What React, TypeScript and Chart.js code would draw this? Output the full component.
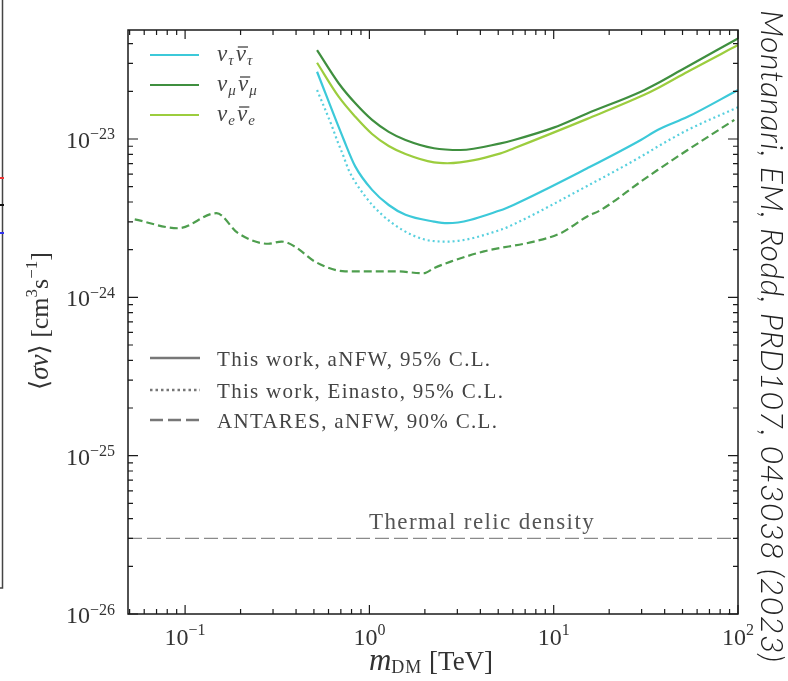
import React, { useEffect, useRef } from "react";
import { Chart, registerables } from "chart.js";
Chart.register(...registerables);

// ---- data (m_DM in TeV, <sigma v> in cm^3 s^-1) ----
const tauMass = [0.52, 0.727, 0.839, 1.034, 1.273, 1.57, 2.24, 2.65, 5.15, 6.09, 15.2, 29.7, 36.6, 53.3, 100];
const tauSigma = [2.66e-23, 9.86e-24, 6.69e-24, 4.77e-24, 3.83e-24, 3.32e-24, 3.01e-24, 2.94e-24, 3.55e-24, 3.85e-24, 6.53e-24, 9.86e-24, 1.14e-23, 1.38e-23, 2.04e-23];
const muMass = [0.52, 0.681, 0.839, 1.034, 1.273, 1.57, 2.24, 3.12, 5.15, 6.09, 10.0, 15.2, 29.7, 36.6, 49, 100];
const muSigma = [3.64e-23, 2.25e-23, 1.68e-23, 1.32e-23, 1.11e-23, 9.86e-24, 8.74e-24, 8.52e-24, 9.39e-24, 9.86e-24, 1.18e-23, 1.45e-23, 1.99e-23, 2.25e-23, 2.72e-23, 4.32e-23];
const eMass = [0.52, 0.681, 0.839, 1.034, 1.273, 1.57, 2.24, 2.65, 5.15, 6.09, 15.2, 31, 36.6, 53.3, 100];
const eSigma = [3.03e-23, 1.85e-23, 1.38e-23, 1.075e-23, 9.03e-24, 8.04e-24, 7.11e-24, 7.03e-24, 8.12e-24, 8.74e-24, 1.34e-23, 1.9e-23, 2.09e-23, 2.66e-23, 3.92e-23];
const tauEinastoMass = [0.52, 0.627, 0.667, 0.725, 0.772, 0.951, 1.172, 1.506, 2.015, 2.65, 5.15, 6.09, 15.2, 29.7, 36.6, 53.3, 100];
const tauEinastoSigma = [2.04e-23, 1.2e-23, 9.86e-24, 7.73e-24, 6.37e-24, 4.33e-24, 3.32e-24, 2.67e-24, 2.31e-24, 2.25e-24, 2.67e-24, 2.9e-24, 5.05e-24, 7.73e-24, 8.94e-24, 1.14e-23, 1.585e-23];
const antaresMass = [0.0533, 0.0916, 0.148, 0.194, 0.282, 0.334, 0.395, 0.507, 0.738, 1.38, 1.97, 2.24, 2.76, 4.18, 7.81, 10.9, 15.2, 18.0, 29.7, 36.6, 53.3, 95.5];
const antaresSigma = [3.11e-24, 2.73e-24, 3.4e-24, 2.54e-24, 2.18e-24, 2.25e-24, 2.09e-24, 1.68e-24, 1.46e-24, 1.46e-24, 1.42e-24, 1.53e-24, 1.68e-24, 1.95e-24, 2.25e-24, 2.54e-24, 3.24e-24, 3.56e-24, 5.38e-24, 6.37e-24, 8.52e-24, 1.32e-23];
const thermalMass = [0.049, 100];
const thermalSigma = [3e-26, 3e-26];

const xRange = [0.049, 100];
const yRange = [1e-26, 4.88e-23];
const xTickExponents = [-1, 0, 1, 2];
const yTickExponents = [-26, -25, -24, -23];
const flavourSubs = ["τ", "μ", "e"];
const styleLabels = ["This work, aNFW, 95% C.L.", "This work, Einasto, 95% C.L.", "ANTARES, aNFW, 90% C.L."];
const thermalLabel = "Thermal relic density";
const citation = "Montanari, EM, Rodd, PRD107, 043038 (2023)";

const C_TAU = "#3cc9d9";
const C_TAU_DOT = "#58d0de";
const C_MU = "#3f8f3f";
const C_E = "#9ccd3e";
const C_ANT = "#4e9e4e";

const SERIF = '"Liberation Serif", "DejaVu Serif", serif';

const pts = (xs: number[], ys: number[]) => xs.map((x, i) => ({ x, y: ys[i] }));

type Run = { t: string; font: string; dy?: number; ls?: number; bar?: boolean };

function runsWidth(ctx: CanvasRenderingContext2D, runs: Run[]) {
  let w = 0;
  for (const r of runs) {
    ctx.font = r.font;
    (ctx as any).letterSpacing = (r.ls || 0) + "px";
    w += ctx.measureText(r.t).width;
  }
  (ctx as any).letterSpacing = "0px";
  return w;
}

function drawRuns(ctx: CanvasRenderingContext2D, runs: Run[], x: number, y: number) {
  let cx = x;
  for (const r of runs) {
    ctx.font = r.font;
    (ctx as any).letterSpacing = (r.ls || 0) + "px";
    ctx.fillText(r.t, cx, y + (r.dy || 0));
    const w = ctx.measureText(r.t).width;
    if (r.bar) {
      ctx.save();
      ctx.strokeStyle = ctx.fillStyle as string;
      ctx.lineWidth = 1.3;
      ctx.beginPath();
      ctx.moveTo(cx + 2, y - 14);
      ctx.lineTo(cx + w + 1, y - 14);
      ctx.stroke();
      ctx.restore();
    }
    cx += w;
  }
  (ctx as any).letterSpacing = "0px";
}

function logTickList(min: number, max: number) {
  const out: { v: number; major: boolean }[] = [];
  for (let e = Math.floor(Math.log10(min)); e <= Math.ceil(Math.log10(max)); e++) {
    for (let k = 1; k <= 9; k++) {
      const v = k * Math.pow(10, e);
      if (v >= min * 0.9999 && v <= max * 1.0001) out.push({ v, major: k === 1 });
    }
  }
  return out;
}

const decorPlugin = {
  id: "decor",
  afterDatasetsDraw(chart: any) {
    const ctx: CanvasRenderingContext2D = chart.ctx;
    const ca = chart.chartArea;
    const xs = chart.scales.x;
    const ys = chart.scales.y;
    ctx.save();

    // frame
    ctx.strokeStyle = "#1a1a1a";
    ctx.lineWidth = 1.5;
    ctx.strokeRect(ca.left, ca.top, ca.right - ca.left, ca.bottom - ca.top);

    // inward ticks
    ctx.lineWidth = 1.2;
    ctx.beginPath();
    for (const t of logTickList(xRange[0], xRange[1])) {
      const px = xs.getPixelForValue(t.v);
      const len = t.major ? 9 : 5;
      ctx.moveTo(px, ca.bottom);
      ctx.lineTo(px, ca.bottom - len);
      ctx.moveTo(px, ca.top);
      ctx.lineTo(px, ca.top + len);
    }
    for (const t of logTickList(yRange[0], yRange[1])) {
      const py = ys.getPixelForValue(t.v);
      const len = t.major ? 10 : 5;
      ctx.moveTo(ca.left, py);
      ctx.lineTo(ca.left + len, py);
      ctx.moveTo(ca.right, py);
      ctx.lineTo(ca.right - len, py);
    }
    ctx.stroke();

    // tick labels
    ctx.fillStyle = "#333";
    ctx.textBaseline = "alphabetic";
    ctx.textAlign = "left";
    const baseF = `24px ${SERIF}`;
    const supF = `16px ${SERIF}`;
    for (const e of xTickExponents) {
      const px = xs.getPixelForValue(Math.pow(10, e));
      const runs: Run[] = [
        { t: "10", font: baseF },
        { t: String(e).replace("-", "−"), font: supF, dy: -10 },
      ];
      const w = runsWidth(ctx, runs);
      drawRuns(ctx, runs, px - w / 2, 645);
    }
    for (const e of yTickExponents) {
      const py = ys.getPixelForValue(Math.pow(10, e));
      const runs: Run[] = [
        { t: "10", font: baseF },
        { t: String(e).replace("-", "−"), font: supF, dy: -8.5 },
      ];
      const w = runsWidth(ctx, runs);
      drawRuns(ctx, runs, 115 - w, py + 9);
    }

    // x title
    ctx.fillStyle = "#333";
    const xt: Run[] = [
      { t: "m", font: `italic 31px ${SERIF}`, ls: 0 },
      { t: "DM", font: `18px ${SERIF}`, dy: 3, ls: 1 },
      { t: " [TeV]", font: `27px ${SERIF}` },
    ];
    const xtw = runsWidth(ctx, xt);
    drawRuns(ctx, xt, 431 - xtw / 2, 669.5);

    // y title
    ctx.save();
    ctx.translate(48, 321);
    ctx.rotate(-Math.PI / 2);
    const yt: Run[] = [
      { t: "⟨", font: `26px ${SERIF}` },
      { t: "σv", font: `italic 27px ${SERIF}` },
      { t: "⟩", font: `26px ${SERIF}` },
      { t: " [cm", font: `26px ${SERIF}` },
      { t: "3", font: `17px ${SERIF}`, dy: -11 },
      { t: "s", font: `26px ${SERIF}` },
      { t: "−1", font: `17px ${SERIF}`, dy: -11 },
      { t: "]", font: `26px ${SERIF}` },
    ];
    const ytw = runsWidth(ctx, yt);
    drawRuns(ctx, yt, -ytw / 2, 0);
    ctx.restore();

    // flavour legend (top-left)
    const flavourColors = [C_TAU, C_MU, C_E];
    const fy = [55, 85, 115];
    flavourSubs.forEach((s, i) => {
      ctx.strokeStyle = flavourColors[i];
      ctx.lineWidth = 2;
      ctx.setLineDash([]);
      ctx.beginPath();
      ctx.moveTo(150, fy[i]);
      ctx.lineTo(199, fy[i]);
      ctx.stroke();
      ctx.fillStyle = "#444";
      const nu = `italic 23px ${SERIF}`;
      const sub = `italic 15px ${SERIF}`;
      drawRuns(ctx, [
        { t: "ν", font: nu, ls: 1 },
        { t: s, font: sub, dy: 4, ls: 1 },
        { t: " ", font: `5px ${SERIF}` },
        { t: "ν", font: nu, bar: true, ls: 1 },
        { t: s, font: sub, dy: 4, ls: 1 },
      ], 217, fy[i] + 6);
    });

    // line-style legend
    const sy = [358, 390, 420];
    const dashes = [[], [2.5, 3], [13, 5]];
    styleLabels.forEach((lab, i) => {
      ctx.strokeStyle = "#777";
      ctx.lineWidth = 2.5;
      ctx.setLineDash(dashes[i]);
      ctx.beginPath();
      ctx.moveTo(150, sy[i]);
      ctx.lineTo(200, sy[i]);
      ctx.stroke();
      ctx.setLineDash([]);
      ctx.fillStyle = "#444";
      drawRuns(ctx, [{ t: lab, font: `21px ${SERIF}`, ls: 1.3 }], 217, sy[i] + 8);
    });

    // thermal relic label
    ctx.fillStyle = "#555";
    drawRuns(ctx, [{ t: thermalLabel, font: `23px ${SERIF}`, ls: 1.4 }], 369, ys.getPixelForValue(thermalSigma[0]) - 9);

    // citation (rotated, along right edge)
    ctx.save();
    ctx.translate(761, 10);
    ctx.rotate(Math.PI / 2);
    ctx.fillStyle = "#222";
    ctx.font = `italic 300 32px Lato, Roboto, "Open Sans", sans-serif`;
    ctx.textAlign = "left";
    const natural = ctx.measureText(citation).width;
    const spacing = Math.max(0, (652 - natural) / (citation.length - 1));
    (ctx as any).letterSpacing = spacing + "px";
    ctx.fillText(citation, 0, 0);
    (ctx as any).letterSpacing = "0px";
    ctx.restore();

    // cropped neighbouring panel edge at far left
    ctx.strokeStyle = "#444";
    ctx.lineWidth = 1.5;
    ctx.beginPath();
    ctx.moveTo(2.5, 0);
    ctx.lineTo(2.5, 588);
    ctx.lineTo(0, 588);
    ctx.stroke();
    ctx.fillStyle = "#e33";
    ctx.fillRect(0, 177, 4, 2);
    ctx.fillStyle = "#111";
    ctx.fillRect(0, 204, 4, 2);
    ctx.fillStyle = "#33e";
    ctx.fillRect(0, 232, 4, 2);

    ctx.restore();
  },
};

export default function App() {
  const ref = useRef<HTMLCanvasElement | null>(null);
  useEffect(() => {
    if (!ref.current) return;
    const common = { pointRadius: 0, fill: false, cubicInterpolationMode: "monotone" as const };
    const chart = new Chart(ref.current, {
      type: "line",
      data: {
        datasets: [
          { ...common, label: "thermal", data: pts(thermalMass, thermalSigma), borderColor: "#8a8a8a", borderWidth: 1.2, borderDash: [14, 5] },
          { ...common, label: "ANTARES", data: pts(antaresMass, antaresSigma), borderColor: C_ANT, borderWidth: 2.2, borderDash: [8, 4] },
          { ...common, label: "tau Einasto", data: pts(tauEinastoMass, tauEinastoSigma), borderColor: C_TAU_DOT, borderWidth: 2.2, borderDash: [2, 3] },
          { ...common, label: "tau", data: pts(tauMass, tauSigma), borderColor: C_TAU, borderWidth: 2.2 },
          { ...common, label: "e", data: pts(eMass, eSigma), borderColor: C_E, borderWidth: 2.2 },
          { ...common, label: "mu", data: pts(muMass, muSigma), borderColor: C_MU, borderWidth: 2.2 },
        ],
      },
      options: {
        responsive: false,
        animation: false,
        devicePixelRatio: 1,
        layout: { padding: { left: 128, top: 30, right: 50, bottom: 67 } },
        plugins: { legend: { display: false }, tooltip: { enabled: false } },
        scales: {
          x: { type: "logarithmic", min: xRange[0], max: xRange[1], display: false },
          y: { type: "logarithmic", min: yRange[0], max: yRange[1], display: false },
        },
      },
      plugins: [decorPlugin],
    });
    return () => chart.destroy();
  }, []);
  return (
    <div style={{ position: "absolute", left: 0, top: 0, width: 788, height: 681, background: "#fff" }}>
      <canvas ref={ref} width={788} height={681} style={{ display: "block" }} />
    </div>
  );
}
